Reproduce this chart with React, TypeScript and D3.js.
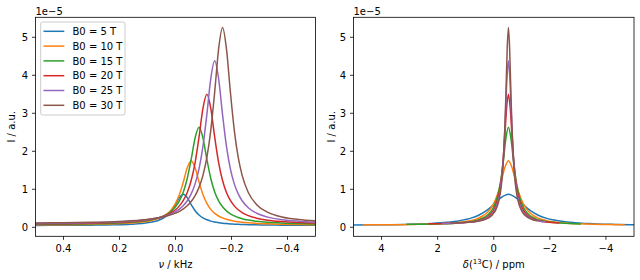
import React from "react";
import * as d3 from "d3";

// ---- data -------------------------------------------------------------
const B0_T = [5, 10, 15, 20, 25, 30];
const SERIES_LABELS = B0_T.map((b) => `B0 = ${b} T`);
const COLORS = ["#1f77b4", "#ff7f0e", "#2ca02c", "#d62728", "#9467bd", "#8c564b"];
const GAMMA_13C_MHZ_PER_T = 10.7084;

// frequency offset grid (kHz)
const FREQ_KHZ = [
  0.5, 0.4, 0.3, 0.22, 0.16, 0.12, 0.09, 0.065,
  0.042, 0.028, 0.014, 0, -0.014, -0.028, -0.042, -0.056, -0.07, -0.084, -0.098,
  -0.112, -0.126, -0.14, -0.154, -0.168, -0.182, -0.196, -0.21, -0.224, -0.238,
  -0.26, -0.29, -0.33, -0.38, -0.44, -0.5,
];

// intensities (units of 1e-5 a.u.)
const I_5T = [
  0.05, 0.052, 0.057, 0.066, 0.081, 0.101, 0.13, 0.174,
  0.248, 0.324, 0.437, 0.599, 0.78, 0.87, 0.78, 0.599, 0.437, 0.324, 0.248,
  0.197, 0.163, 0.138, 0.121, 0.107, 0.097, 0.089, 0.083, 0.078, 0.074,
  0.069, 0.064, 0.059, 0.056, 0.053, 0.051,
];
const I_10T = [
  0.064, 0.068, 0.076, 0.09, 0.111, 0.138, 0.173, 0.222,
  0.297, 0.368, 0.472, 0.628, 0.861, 1.192, 1.565, 1.75, 1.565, 1.192, 0.861,
  0.628, 0.472, 0.368, 0.297, 0.247, 0.21, 0.183, 0.162, 0.146, 0.133,
  0.118, 0.103, 0.09, 0.08, 0.073, 0.069,
];
const I_15T = [
  0.077, 0.082, 0.093, 0.109, 0.132, 0.16, 0.194, 0.237,
  0.3, 0.355, 0.431, 0.539, 0.697, 0.932, 1.285, 1.786, 2.35, 2.63, 2.35,
  1.786, 1.285, 0.932, 0.697, 0.539, 0.431, 0.355, 0.3, 0.259, 0.227,
  0.191, 0.158, 0.131, 0.111, 0.097, 0.089,
];
const I_20T = [
  0.09, 0.096, 0.107, 0.124, 0.148, 0.174, 0.204, 0.241,
  0.291, 0.334, 0.389, 0.462, 0.564, 0.708, 0.918, 1.232, 1.704, 2.373, 3.127,
  3.5, 3.127, 2.373, 1.704, 1.232, 0.918, 0.708, 0.564, 0.462, 0.389,
  0.308, 0.24, 0.187, 0.15, 0.125, 0.111,
];
const I_25T = [
  0.102, 0.108, 0.12, 0.137, 0.16, 0.184, 0.211, 0.243,
  0.283, 0.316, 0.356, 0.409, 0.478, 0.571, 0.698, 0.879, 1.142, 1.536, 2.128,
  2.967, 3.912, 4.38, 3.912, 2.967, 2.128, 1.536, 1.142, 0.879, 0.698,
  0.515, 0.37, 0.267, 0.201, 0.16, 0.137,
];
const I_30T = [
  0.113, 0.12, 0.132, 0.149, 0.171, 0.193, 0.216, 0.243,
  0.276, 0.302, 0.333, 0.372, 0.421, 0.485, 0.568, 0.679, 0.833, 1.05, 1.367,
  1.84, 2.552, 3.561, 4.697, 5.26, 4.697, 3.561, 2.552, 1.84, 1.367,
  0.916, 0.596, 0.392, 0.273, 0.204, 0.169,
];
const INTENSITY = [I_5T, I_10T, I_15T, I_20T, I_25T, I_30T];

const FREQ_TICKS = [0.4, 0.2, 0, -0.2, -0.4];
const PPM_TICKS = [4, 2, 0, -2, -4];
const Y_TICKS = [0, 1, 2, 3, 4, 5];
const Y_OFFSET_LABEL = "1e\u22125";

// ---- layout -------------------------------------------------------------
const W = 640;
const H = 280;
const TOP = 17.3;
const BOTTOM = 236.3;
const FONT = "DejaVu Sans, sans-serif";

const fmtMinus = (s: string) => s.replace("-", "\u2212");

type Pt = { x: number; y: number };

function Panel(props: {
  id: string;
  x0: number;
  x1: number;
  xDomain: [number, number];
  xTicks: number[];
  xFmt: (v: number) => string;
  seriesPts: Pt[][];
  xLabel: React.ReactNode;
  yLabelX: number;
  legend?: boolean;
}) {
  const { id, x0, x1, xDomain, xTicks, xFmt, seriesPts, xLabel, yLabelX, legend } = props;
  const x = d3.scaleLinear().domain(xDomain).range([x0, x1]);
  const y = d3.scaleLinear().domain([-0.237, 5.526]).range([BOTTOM, TOP]);
  const line = d3
    .line<Pt>()
    .x((d) => x(d.x))
    .y((d) => y(d.y))
    .curve(d3.curveMonotoneX);
  const cx = (x0 + x1) / 2;
  return (
    <g>
      <defs>
        <clipPath id={id}>
          <rect x={x0} y={TOP} width={x1 - x0} height={BOTTOM - TOP} />
        </clipPath>
      </defs>
      <g clipPath={`url(#${id})`}>
        {seriesPts.map((pts, i) => (
          <path
            key={i}
            d={line(pts) || ""}
            fill="none"
            stroke={COLORS[i]}
            strokeWidth={1.5}
            strokeLinejoin="round"
          />
        ))}
      </g>
      <rect x={x0} y={TOP} width={x1 - x0} height={BOTTOM - TOP} fill="none" stroke="#000" strokeWidth={0.8} />
      {xTicks.map((t) => (
        <g key={t}>
          <line x1={x(t)} x2={x(t)} y1={BOTTOM} y2={BOTTOM + 3.5} stroke="#000" strokeWidth={0.8} />
          <text x={x(t)} y={252} textAnchor="middle" fontSize={10} fontFamily={FONT} fill="#000">
            {xFmt(t)}
          </text>
        </g>
      ))}
      {Y_TICKS.map((t) => (
        <g key={t}>
          <line x1={x0 - 3.5} x2={x0} y1={y(t)} y2={y(t)} stroke="#000" strokeWidth={0.8} />
          <text x={x0 - 7.5} y={y(t) + 3.6} textAnchor="end" fontSize={10} fontFamily={FONT} fill="#000">
            {t}
          </text>
        </g>
      ))}
      <text x={x0} y={15} fontSize={10} fontFamily={FONT} fill="#000">
        {Y_OFFSET_LABEL}
      </text>
      <text
        x={yLabelX}
        y={(TOP + BOTTOM) / 2}
        transform={`rotate(-90 ${yLabelX} ${(TOP + BOTTOM) / 2})`}
        textAnchor="middle"
        fontSize={10}
        fontFamily={FONT}
        fill="#000"
      >
        I / a.u.
      </text>
      <text x={cx} y={268} textAnchor="middle" fontSize={10} fontFamily={FONT} fill="#000">
        {xLabel}
      </text>
      {legend && (
        <g>
          <rect x={40.7} y={22} width={84.3} height={93} rx={2} fill="#fff" fillOpacity={0.8} stroke="#cccccc" strokeWidth={1} />
          {SERIES_LABELS.map((lab, i) => {
            const ly = 31.3 + i * 14.8;
            return (
              <g key={lab}>
                <line x1={43.5} x2={64.3} y1={ly} y2={ly} stroke={COLORS[i]} strokeWidth={1.5} />
                <text x={72.5} y={ly + 3.6} fontSize={10} fontFamily={FONT} fill="#000">
                  {lab}
                </text>
              </g>
            );
          })}
        </g>
      )}
    </g>
  );
}

export default function App() {
  const freqSeries: Pt[][] = INTENSITY.map((arr) => FREQ_KHZ.map((f, j) => ({ x: f, y: arr[j] })));
  const ppmSeries: Pt[][] = INTENSITY.map((arr, i) => {
    const larmorMHz = GAMMA_13C_MHZ_PER_T * B0_T[i];
    return FREQ_KHZ.map((f, j) => ({ x: (f * 1000) / larmorMHz, y: arr[j] }));
  });
  return (
    <svg
      width={W}
      height={H}
      viewBox={`0 0 ${W} ${H}`}
      style={{ position: "absolute", left: 0, top: 0, background: "#fff" }}
    >
      <rect x={0} y={0} width={W} height={H} fill="#fff" />
      <Panel
        id="clipL"
        x0={35.5}
        x1={315.5}
        xDomain={[0.5, -0.5]}
        xTicks={FREQ_TICKS}
        xFmt={(v) => fmtMinus(v.toFixed(1))}
        seriesPts={freqSeries}
        xLabel={
          <>
            <tspan fontStyle="italic">ν</tspan>
            <tspan> / kHz</tspan>
          </>
        }
        yLabelX={15.5}
        legend
      />
      <Panel
        id="clipR"
        x0={353.5}
        x1={634}
        xDomain={[5, -5]}
        xTicks={PPM_TICKS}
        xFmt={(v) => fmtMinus(String(v))}
        seriesPts={ppmSeries}
        xLabel={
          <>
            <tspan fontStyle="italic">δ</tspan>
            <tspan>(</tspan>
            <tspan fontSize={7} dy={-4}>13</tspan>
            <tspan dy={4}>C) / ppm</tspan>
          </>
        }
        yLabelX={335.5}
      />
    </svg>
  );
}
